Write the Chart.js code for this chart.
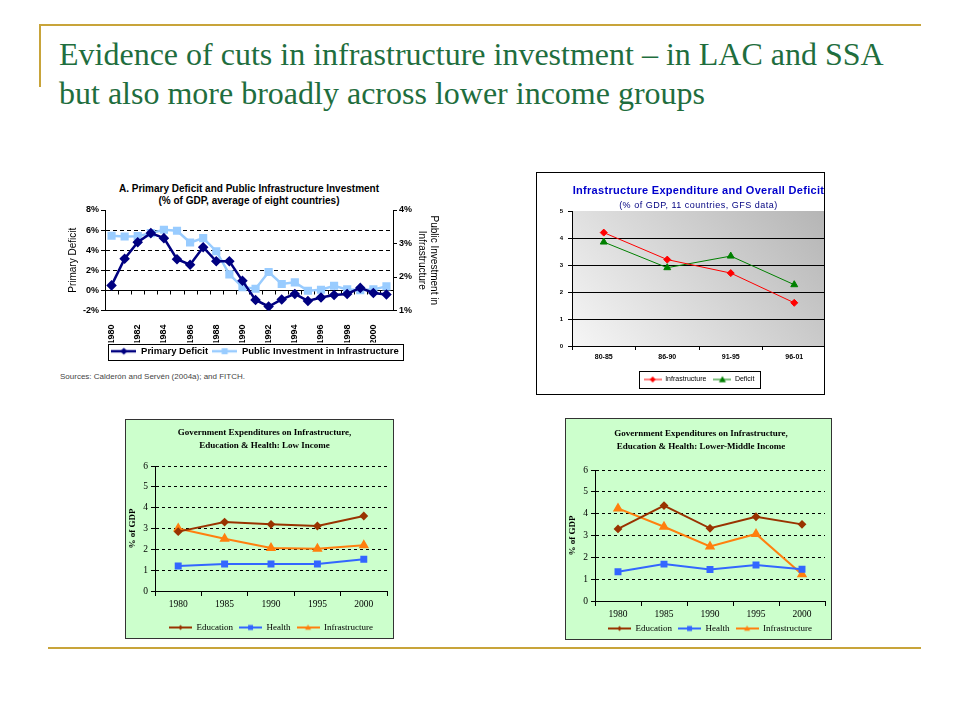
<!DOCTYPE html>
<html lang="en">
<head>
<meta charset="UTF-8">
<title>Evidence of cuts in infrastructure investment</title>
<script src="https://cdn.jsdelivr.net/npm/chart.js"></script>
<style>
  body { margin: 0; width: 960px; height: 720px; position: relative; overflow: hidden; background: #fff; font-family: 'Liberation Sans', Arial, sans-serif; }
  .gold { position: absolute; background: #c8a43a; }
  .txt { position: absolute; white-space: nowrap; text-align: center; color: #000; }
  #slideTitle { position: absolute; left: 59px; top: 35px; font-family: 'Liberation Serif', serif; font-size: 32px; line-height: 39px; color: #1f6e3e; white-space: nowrap; }
  .box { position: absolute; overflow: hidden; }
  .box canvas { position: absolute; left: 0; top: 0; }
  .serif { font-family: 'Liberation Serif', serif; font-weight: bold; font-size: 9px; line-height: 12.5px; }
</style>
</head>
<body>
  <div class="gold" style="left:39px; top:24px; width:882px; height:2px;"></div>
  <div class="gold" style="left:39px; top:24px; width:2px; height:63px;"></div>
  <div class="gold" style="left:48px; top:647px; width:873px; height:2px;"></div>
  <div id="slideTitle">Evidence of cuts in infrastructure investment – in LAC and SSA<br>but also more broadly across lower income groups</div>

  <!-- chart A -->
  <div class="txt" style="left:99px; top:183px; width:300px; font-weight:bold; font-size:10px; line-height:12px;">A. Primary Deficit and Public Infrastructure Investment<br>(% of GDP, average of eight countries)</div>
  <canvas id="chartA" width="390" height="188" style="position:absolute; left:60px; top:178px;"></canvas>
  <div class="txt" style="left:60px; top:371px; font-size:8px; line-height:11px; color:#444; text-align:left;">Sources: Calderón and Servén (2004a); and FITCH.</div>

  <!-- chart B -->
  <div class="box" style="left:536px; top:172px; width:287px; height:221px; border:1px solid #000;">
    <canvas id="chartB" width="294" height="220"></canvas>
    <div class="txt" style="left:0; top:10px; width:323px; font-weight:bold; font-size:11px; line-height:14px; color:#0000cc; letter-spacing:0.3px;">Infrastructure Expenditure and Overall Deficit</div>
    <div class="txt" style="left:0; top:26px; width:323px; font-size:9px; line-height:12px; color:#000080; letter-spacing:0.5px;">(% of GDP, 11 countries, GFS data)</div>
  </div>

  <!-- chart C -->
  <div class="box" style="left:125px; top:419px; width:267px; height:218px; border:1px solid #333; background:#ccffcc;">
    <canvas id="chartC" width="267" height="222"></canvas>
    <div class="txt serif" style="left:0; top:6px; width:277px;">Government Expenditures on Infrastructure,<br>Education &amp; Health: Low Income</div>
  </div>

  <!-- chart D -->
  <div class="box" style="left:565px; top:418px; width:265px; height:220px; border:1px solid #333; background:#ccffcc;">
    <canvas id="chartD" width="265" height="224"></canvas>
    <div class="txt serif" style="left:0; top:8px; width:270px;">Government Expenditures on Infrastructure,<br>Education &amp; Health: Lower-Middle Income</div>
  </div>

<script>
// ---- data ----
const years = ['1980','1981','1982','1983','1984','1985','1986','1987','1988','1989','1990',
               '1991','1992','1993','1994','1995','1996','1997','1998','1999','2000','2001'];
const primaryDeficit = [0.5, 3.15, 4.8, 5.7, 5.2, 3.1, 2.55, 4.3, 2.9, 2.9, 0.95,
                        -0.95, -1.6, -0.9, -0.35, -1.05, -0.7, -0.45, -0.35, 0.25, -0.25, -0.4];
const publicInvestment = [3.23, 3.21, 3.22, 3.31, 3.41, 3.38, 3.03, 3.16, 2.77, 2.08, 1.7,
                          1.65, 2.15, 1.79, 1.84, 1.59, 1.62, 1.74, 1.63, 1.61, 1.63, 1.72];
const deficitTicks = [-2, 0, 2, 4, 6, 8];

const periods = ['80-85', '86-90', '91-95', '96-01'];
const infraExpenditure = [4.2, 3.2, 2.7, 1.6];
const overallDeficit = [3.85, 2.9, 3.33, 2.27];

const fiveYears = ['1980', '1985', '1990', '1995', '2000'];
const lowEducation = [2.85, 3.31, 3.2, 3.12, 3.6];
const lowHealth = [1.2, 1.3, 1.3, 1.3, 1.52];
const lowInfrastructure = [3.0, 2.51, 2.06, 2.03, 2.2];
const lmEducation = [3.3, 4.37, 3.33, 3.86, 3.51];
const lmHealth = [1.34, 1.69, 1.44, 1.65, 1.45];
const lmInfrastructure = [4.24, 3.4, 2.5, 3.07, 1.22];

Chart.defaults.animation = false;
Chart.defaults.responsive = false;
Chart.defaults.color = '#000';

const SANS = 'Liberation Sans';
const SERIF = 'Liberation Serif';

// small line+marker picture for legend entries
function legendIcon(color, style, w, lw, r) {
  const c = document.createElement('canvas');
  c.width = w; c.height = 12;
  const g = c.getContext('2d');
  const cx = w / 2, cy = 6;
  g.strokeStyle = color; g.lineWidth = lw;
  g.beginPath(); g.moveTo(0, cy); g.lineTo(w, cy); g.stroke();
  g.fillStyle = color;
  g.beginPath();
  if (style === 'rectRot') {
    g.moveTo(cx, cy - r); g.lineTo(cx + r, cy); g.lineTo(cx, cy + r); g.lineTo(cx - r, cy);
  } else if (style === 'triangle') {
    g.moveTo(cx, cy - r); g.lineTo(cx + r, cy + r * 0.75); g.lineTo(cx - r, cy + r * 0.75);
  } else {
    g.rect(cx - r, cy - r, 2 * r, 2 * r);
  }
  g.closePath(); g.fill();
  return c;
}

function iconLabels(icons) {
  return chart => chart.data.datasets.map((ds, i) => ({
    text: ds.label, pointStyle: icons[i], datasetIndex: i,
    fillStyle: ds.borderColor, strokeStyle: ds.borderColor, lineWidth: 0, hidden: false
  }));
}

// frame round the legend items
const legendFrame = {
  id: 'legendFrame',
  afterDraw(chart, args, opts) {
    const boxes = chart.legend && chart.legend.legendHitBoxes;
    if (!boxes || !boxes.length) return;
    const l = Math.min(...boxes.map(b => b.left)) - opts.padL;
    const r = Math.max(...boxes.map(b => b.left + b.width)) + opts.padR;
    const t = Math.min(...boxes.map(b => b.top)) - opts.padY;
    const b2 = Math.max(...boxes.map(b => b.top + b.height)) + opts.padY;
    const ctx = chart.ctx;
    ctx.save();
    ctx.strokeStyle = '#000';
    ctx.lineWidth = opts.width || 1;
    ctx.strokeRect(Math.round(l) + 0.5, Math.round(t) + 0.5, Math.round(r - l), Math.round(b2 - t));
    ctx.restore();
  }
};

// tick marks along the 0% line (category axis crosses there)
const zeroTicks = {
  id: 'zeroTicks',
  beforeDatasetsDraw(chart) {
    const xs = chart.scales.x, ys = chart.scales.y, ctx = chart.ctx;
    const y0 = Math.round(ys.getPixelForValue(0)) + 0.5;
    const half = (xs.getPixelForValue(1) - xs.getPixelForValue(0)) / 2;
    ctx.save();
    ctx.strokeStyle = '#000'; ctx.lineWidth = 1;
    ctx.beginPath();
    for (let i = 0; i <= years.length; i++) {
      const px = Math.round(xs.getPixelForValue(i) - half) + 0.5;
      ctx.moveTo(px, y0); ctx.lineTo(px, y0 + 4);
    }
    ctx.stroke();
    ctx.restore();
  }
};

// grey gradient behind plot of chart B
const plotGradient = {
  id: 'plotGradient',
  beforeDraw(chart) {
    const { ctx, chartArea: a } = chart;
    const g = ctx.createLinearGradient(a.left, a.bottom, a.right - 40, a.top - 60);
    g.addColorStop(0, '#f6f6f6');
    g.addColorStop(1, '#b2b2b2');
    ctx.save(); ctx.fillStyle = g; ctx.fillRect(a.left, a.top, a.width, a.height); ctx.restore();
  }
};

// ---- chart A ----
new Chart(document.getElementById('chartA'), {
  type: 'line',
  data: {
    labels: years,
    datasets: [
      { label: 'Primary Deficit', data: primaryDeficit, yAxisID: 'y',
        borderColor: '#000080', backgroundColor: '#000080', borderWidth: 2.5,
        pointStyle: 'rectRot', pointRadius: 3.5, tension: 0 },
      { label: 'Public Investment in Infrastructure', data: publicInvestment, yAxisID: 'y1',
        borderColor: '#99ccff', backgroundColor: '#99ccff', borderWidth: 2.5,
        pointStyle: 'rect', pointRadius: 4, tension: 0 }
    ]
  },
  options: {
    layout: { padding: { top: 32, left: 0, right: 0, bottom: 0 } },
    scales: {
      x: {
        offset: true,
        grid: { display: false },
        border: { color: '#000', width: 1 },
        afterFit: s => { s.height = 32; },
        ticks: { autoSkip: false, maxRotation: 90, minRotation: 90, padding: 6,
                 font: { family: SANS, size: 9, weight: 'bold' },
                 callback: (v, i) => i % 2 === 0 ? years[i] : '' }
      },
      y: {
        position: 'left', min: -2, max: 8,
        afterBuildTicks: s => { s.ticks = deficitTicks.map(v => ({ value: v })); },
        afterFit: s => { s.width = 45; },
        grid: {
          color: c => (c.tick && [0, 2, 4, 6].includes(c.tick.value)) ? '#000' : 'rgba(0,0,0,0)',
          tickColor: '#000', tickLength: 4, lineWidth: 1,
          borderDash: c => (c.tick && c.tick.value === 0) ? [] : [4, 3]
        },
        border: { color: '#000', dash: c => (c.tick && c.tick.value !== 0) ? [4, 3] : [] },
        ticks: { padding: 2, font: { family: SANS, size: 9, weight: 'bold' }, callback: v => v + '%' },
        title: { display: true, text: 'Primary Deficit', font: { family: SANS, size: 10 }, padding: { top: 7 } }
      },
      y1: {
        position: 'right', min: 1, max: 4,
        ticks: { stepSize: 1, padding: 2, font: { family: SANS, size: 9, weight: 'bold' }, callback: v => v + '%' },
        afterFit: s => { s.width = 57; },
        grid: { drawOnChartArea: false, tickColor: '#000', tickLength: 4 },
        border: { color: '#000' },
        title: { display: true, text: ['Public Investment in', 'Infrastructure'],
                 font: { family: SANS, size: 10, lineHeight: 1.2 }, padding: { top: 10 } }
      }
    },
    plugins: {
      legend: {
        position: 'bottom',
        labels: {
          usePointStyle: true, pointStyleWidth: 25, boxHeight: 10, padding: 4,
          font: { family: SANS, size: 9.5, weight: 'bold' },
          generateLabels: iconLabels([legendIcon('#000080', 'rectRot', 25, 2.5, 3.5), legendIcon('#99ccff', 'rect', 25, 2.5, 3)])
        }
      },
      legendFrame: { padL: 3, padR: 5, padY: 3 },
      tooltip: { enabled: false }
    }
  },
  plugins: [legendFrame, zeroTicks]
});

// ---- chart B ----
new Chart(document.getElementById('chartB'), {
  type: 'line',
  data: {
    labels: periods,
    datasets: [
      { label: 'Infrastructure', data: infraExpenditure, borderColor: '#ff0000', backgroundColor: '#ff0000',
        borderWidth: 1, pointStyle: 'rectRot', pointRadius: 3.5, tension: 0 },
      { label: 'Deficit', data: overallDeficit, borderColor: '#008000', backgroundColor: '#008000',
        borderWidth: 1, pointStyle: 'triangle', pointRadius: 4, tension: 0 }
    ]
  },
  options: {
    layout: { padding: { top: 38, left: 0, right: 0, bottom: 0 } },
    scales: {
      x: {
        offset: true,
        grid: { offset: true, drawOnChartArea: false, tickColor: '#000', tickLength: 4 },
        border: { color: '#000' },
        afterFit: s => { s.height = 23; },
        ticks: { padding: 3, maxRotation: 0, font: { family: SANS, size: 7, weight: 'bold' } }
      },
      y: {
        min: 0, max: 5,
        afterFit: s => { s.width = 35; },
        grid: {
          color: c => (c.tick && c.tick.value > 0 && c.tick.value < 5) ? '#000' : 'rgba(0,0,0,0)',
          tickColor: '#000', tickLength: 4, lineWidth: 1
        },
        border: { color: '#000' },
        ticks: { stepSize: 1, padding: 5, font: { family: SANS, size: 6, weight: 'bold' } }
      }
    },
    plugins: {
      legend: {
        position: 'bottom', fullSize: false,
        labels: {
          usePointStyle: true, pointStyleWidth: 18, boxHeight: 7, padding: 7,
          font: { family: SANS, size: 7 },
          generateLabels: iconLabels([legendIcon('#ff0000', 'rectRot', 18, 1, 3), legendIcon('#008000', 'triangle', 18, 1, 3.5)])
        }
      },
      legendFrame: { padL: 5, padR: 5, padY: 5 },
      tooltip: { enabled: false }
    }
  },
  plugins: [plotGradient, legendFrame]
});

// ---- charts C and D ----
const EDU = '#993300', HEA = '#3366ff', INF = '#ff7f0e';

function incomeChart(id, edu, hea, inf, pad, xHeight) {
  return new Chart(document.getElementById(id), {
    type: 'line',
    data: {
      labels: fiveYears,
      datasets: [
        { label: 'Education', data: edu, borderColor: EDU, backgroundColor: EDU, borderWidth: 2,
          pointStyle: 'rectRot', pointRadius: 3, tension: 0 },
        { label: 'Health', data: hea, borderColor: HEA, backgroundColor: HEA, borderWidth: 2,
          pointStyle: 'rect', pointRadius: 3.5, tension: 0 },
        { label: 'Infrastructure', data: inf, borderColor: INF, backgroundColor: INF, borderWidth: 2,
          pointStyle: 'triangle', pointRadius: 4, tension: 0 }
      ]
    },
    options: {
      layout: { padding: pad },
      scales: {
        x: {
          offset: true,
          grid: { offset: true, drawOnChartArea: false, tickColor: '#000', tickLength: 5 },
          border: { color: '#000' },
          afterFit: s => { s.height = xHeight; },
          ticks: { padding: 3, maxRotation: 0, font: { family: SERIF, size: 9.5 } }
        },
        y: {
          min: 0, max: 6,
          afterFit: s => { s.width = 29; },
          grid: {
            color: c => (c.tick && c.tick.value > 0) ? '#000' : 'rgba(0,0,0,0)',
            tickColor: '#000', tickLength: 4, lineWidth: 1,
            borderDash: [3, 3]
          },
          border: { color: '#000', dash: [3, 3] },
          ticks: { stepSize: 1, padding: 3, font: { family: SERIF, size: 9.5 } },
          title: { display: true, text: '% of GDP', font: { family: SERIF, size: 9, weight: 'bold' }, padding: { top: 1 } }
        }
      },
      plugins: {
        legend: {
          position: 'bottom', fullSize: false,
          labels: {
            usePointStyle: true, pointStyleWidth: 23, boxHeight: 9, padding: 6,
            font: { family: SERIF, size: 9 },
            generateLabels: iconLabels([legendIcon(EDU, 'rectRot', 23, 2, 2.5), legendIcon(HEA, 'rect', 23, 2, 2.5), legendIcon(INF, 'triangle', 23, 2, 3)])
          }
        },
        tooltip: { enabled: false }
      }
    }
  });
}

incomeChart('chartC', lowEducation, lowHealth, lowInfrastructure, { top: 46, left: 0, right: 5, bottom: 0 }, 26);
incomeChart('chartD', lmEducation, lmHealth, lmInfrastructure, { top: 51, left: 0, right: 1, bottom: 0 }, 17);
</script>
</body>
</html>
